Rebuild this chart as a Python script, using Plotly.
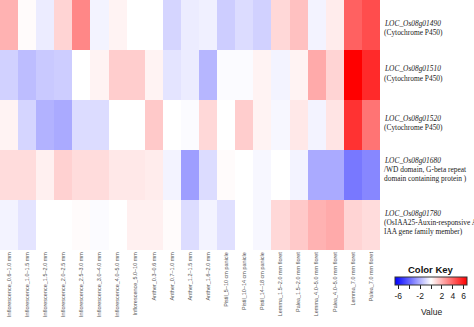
import plotly.graph_objects as go

conditions = [
    "Inflorescence_0.6–1.0 mm", "Inflorescence_1.0–1.5 mm", "Inflorescence_1.5–2.0 mm",
    "Inflorescence_2.0–2.5 mm", "Inflorescence_2.5–3.0 mm", "Inflorescence_3.0–4.0 mm",
    "Inflorescence_4.0–5.0 mm", "Inflorescence_5.0–10 mm", "Anther_0.3–0.6 mm",
    "Anther_0.7–1.0 mm", "Anther_1.2–1.5 mm", "Anther_1.6–2.0 mm",
    "Pistil_5–10 cm panicle", "Pistil_10–14 cm panicle", "Pistil_14–18 cm panicle",
    "Lemma_1.5–2.0 mm floret", "Palea_1.5–2.0 mm floret", "Lemma_4.0–5.0 mm floret",
    "Palea_4.0–5.0 mm floret", "Lemma_7.0 mm floret", "Palea_7.0 mm floret",
]

genes = ["LOC_Os08g01490", "LOC_Os08g01510", "LOC_Os08g01520", "LOC_Os08g01680", "LOC_Os08g01780"]

gene_desc = [
    ["(Cytochrome P450)"],
    ["(Cytochrome P450)"],
    ["(Cytochrome P450)"],
    ["/WD domain, G-beta repeat", "domain containing protein )"],
    ["(OsIAA25-Auxin-responsive Aux/", "IAA gene family member)"],
]

expr_01490 = [2.0, 0.1, -0.5, 1.1, 3.1, -0.3, 0.3, 0.0, 0.0, -1.1, -0.5, -0.4, -1.3, -0.9, -1.2, 1.0, 1.6, -0.3, 0.5, 4.1, 4.6]
expr_01510 = [-1.2, -1.7, -1.4, -1.3, 0.0, 0.3, 1.3, 1.3, 0.3, -0.7, -0.5, -1.9, -0.1, -0.1, 0.3, -0.3, 0.3, 2.2, 1.1, 6.6, 5.5]
expr_01520 = [0.3, -1.1, -2.0, -2.2, -0.9, -0.9, 0.0, 0.0, 1.4, 0.0, -0.1, 1.0, 0.0, 1.3, 0.3, -0.2, 0.6, -0.3, 0.7, 5.3, 3.6]
expr_01680 = [0.9, 0.9, 0.4, 1.2, 0.9, 0.9, 0.6, 0.6, 0.5, -0.3, -2.5, -0.9, 0.1, 0.0, -0.2, 0.0, -0.3, -2.2, -2.2, -3.5, -3.1]
expr_01780 = [-0.3, -0.7, 0.0, 0.0, 0.1, -0.1, 0.0, 0.4, 0.4, 0.1, -0.9, -0.3, -0.8, 0.0, -0.2, 1.0, 1.4, 2.0, 2.2, 1.1, 0.9]

key_ticks = [-6, -4, -2, 0, 2, 4, 6]
key_ticktext = ["-6", "", "-2", "", "2", "4", "6"]

z = [expr_01490, expr_01510, expr_01520, expr_01680, expr_01780]

W, H = 474, 327
HM_RIGHT, HM_BOTTOM = 380, 250
n_rows = len(genes)
row_h = HM_BOTTOM / n_rows

fig = go.Figure(go.Heatmap(
    z=z,
    x=conditions,
    y=list(range(n_rows)),
    zmin=-6.6, zmax=6.6,
    colorscale=[[0, "rgb(0,0,255)"], [0.5, "rgb(255,255,255)"], [1, "rgb(255,0,0)"]],
    xgap=0, ygap=0,
    colorbar=dict(
        orientation="h",
        x=431 / W, xanchor="center", xref="paper",
        y=(H - 277) / H, yanchor="top", yref="paper",
        len=72, lenmode="pixels",
        thickness=8, thicknessmode="pixels",
        xpad=0, ypad=0,
        outlinewidth=1, outlinecolor="#333333",
        tickvals=key_ticks, ticktext=key_ticktext,
        ticks="outside", ticklen=4, tickcolor="#222222", tickwidth=1,
        tickfont=dict(family="Liberation Sans, Arial", size=8.5, color="#222222"),
    ),
))

# right side gene labels (offset of first line from row centre in px)
first_line_offset = [-1.7, -6, -7, -15, -12]
line_step = 9.3
annotations = []
for r, g in enumerate(genes):
    lines = ["<i>" + g + "</i>"] + gene_desc[r]
    row_centre_px = row_h * (r + 0.5)
    for k, t in enumerate(lines):
        py = row_centre_px + first_line_offset[r] + k * line_step
        annotations.append(dict(
            x=(HM_RIGHT + 2) / W, y=(H - py) / H, xref="paper", yref="paper",
            xanchor="left", yanchor="middle",
            text=t, showarrow=False,
            font=dict(family="Liberation Serif, Times New Roman", size=7.4, color="#222222"),
        ))

annotations.append(dict(
    x=431 / W, y=(H - 269) / H, xref="paper", yref="paper",
    text="<b>Color Key</b>", showarrow=False, xanchor="center", yanchor="middle",
    font=dict(family="Liberation Sans, Arial", size=9.5, color="#111111"),
))
annotations.append(dict(
    x=431 / W, y=(H - 312) / H, xref="paper", yref="paper",
    text="Value", showarrow=False, xanchor="center", yanchor="middle",
    font=dict(family="Liberation Sans, Arial", size=8.5, color="#222222"),
))

fig.update_layout(
    width=W, height=H,
    margin=dict(l=0, r=0, t=0, b=0, pad=0),
    paper_bgcolor="white", plot_bgcolor="white",
    annotations=annotations,
    xaxis=dict(
        domain=[0, HM_RIGHT / W],
        tickangle=-90, showgrid=False, zeroline=False, ticks="", showline=False,
        tickfont=dict(family="Liberation Sans, Arial", size=5.5, color="#555555"),
    ),
    yaxis=dict(
        domain=[(H - HM_BOTTOM) / H, 1],
        autorange="reversed", showticklabels=False, showgrid=False,
        zeroline=False, ticks="", showline=False,
    ),
)

fig.write_html("out.html")
